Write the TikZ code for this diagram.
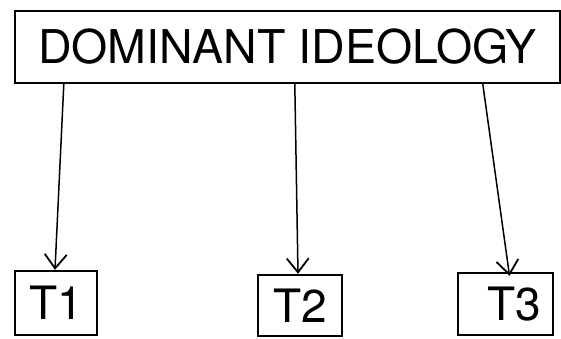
\documentclass[tikz,border=0pt]{standalone}
\usepackage{fontspec}
\setmainfont{TeX Gyre Heros}
\usetikzlibrary{arrows.meta}
\begin{document}
\begin{tikzpicture}[x=1pt,y=-1pt,
  bigbox/.style={draw,line width=2.4pt,inner sep=0pt,font=\fontsize{46.5}{50}\selectfont},
  tbox/.style={draw,line width=2.4pt,inner sep=0pt,font=\fontsize{46}{50}\selectfont},
  conn/.style={line width=1.5pt,-{Straight Barb[length=14pt,width=22pt,line width=1.8pt]}}]
\useasboundingbox (0,0) rectangle (561,338);
\node[bigbox,minimum width=545pt,minimum height=72pt] (main) at (287.5,47) {DOMINANT IDEOLOGY};
\node[tbox,minimum width=82pt,minimum height=64pt] (t1) at (56,303) {T1};
\node[tbox,minimum width=84pt,minimum height=61pt] (t2) at (300,305.5) {T2};
\node[tbox,minimum width=95pt,minimum height=62pt] (t3) at (505.5,304) {\hspace*{18pt}T3};
\coordinate (a1) at ([xshift=50pt]main.south west);
\coordinate (a2) at ([xshift=281pt]main.south west);
\coordinate (a3) at ([xshift=469pt]main.south west);
\draw[conn] (a1) -- ([xshift=-1pt]t1.north);
\draw[conn] (a2) -- ([xshift=-2pt]t2.north);
\draw[conn] (a3) -- ([xshift=4pt,yshift=-4pt]t3.north);
\end{tikzpicture}
\end{document}
